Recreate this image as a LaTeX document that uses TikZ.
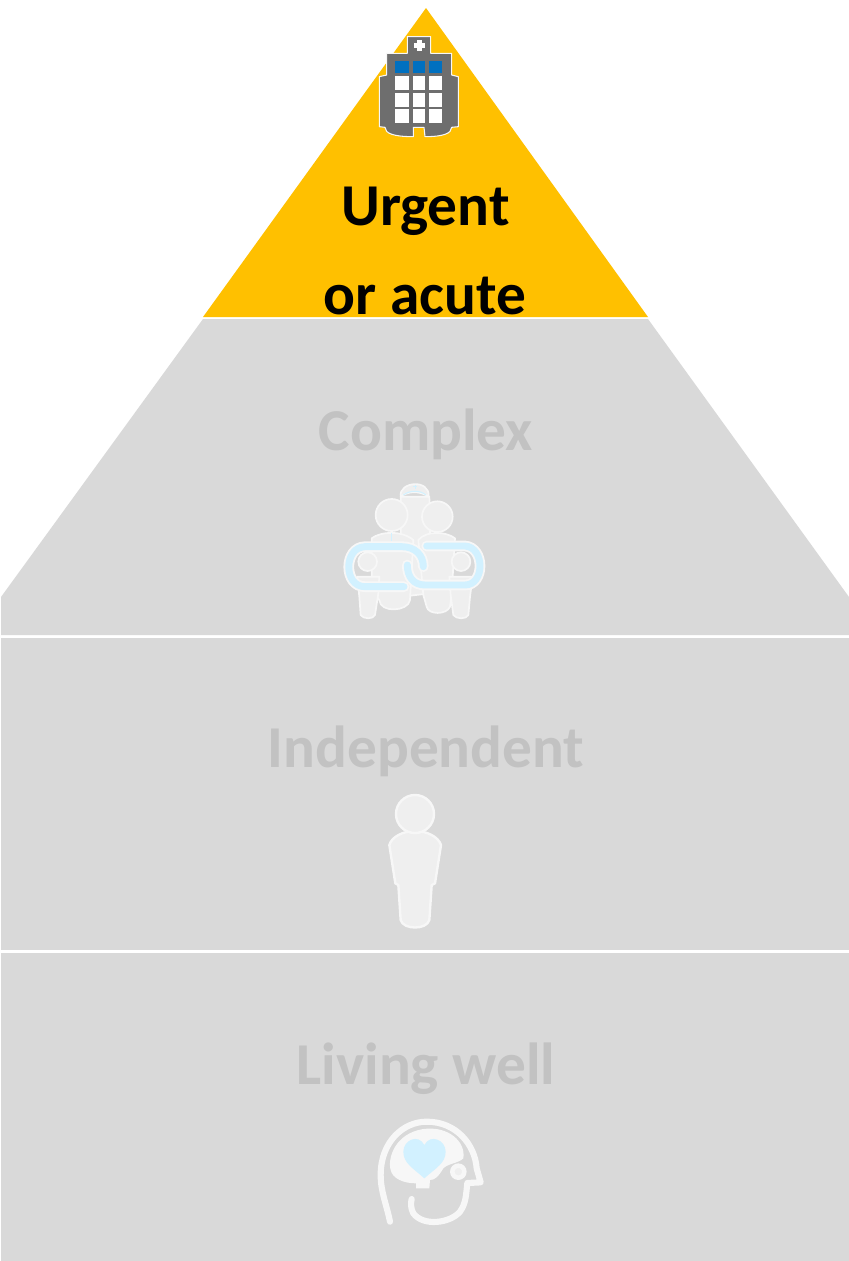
\documentclass[tikz,border=0pt]{standalone}
\usepackage{fontspec}
\setmainfont{Carlito}
\definecolor{amber}{HTML}{FFC000}
\definecolor{band}{HTML}{D9D9D9}
\definecolor{dimtext}{HTML}{C2C2C2}
\definecolor{iconfill}{HTML}{EFEFEF}
\definecolor{iconline}{HTML}{F7F7F7}
\definecolor{chain}{HTML}{D2F1FF}
\definecolor{bldg}{HTML}{6E6E6E}
\definecolor{winblue}{HTML}{0070C0}
\tikzset{
  label text/.style={font=\bfseries\fontsize{44.5pt}{50pt}\selectfont,inner sep=0pt,anchor=base},
  dim label/.style={label text,text=dimtext},
  person/.style={fill=iconfill,draw=iconline,line width=1.3pt,line join=round},
  window/.style={fill=white,draw=none},
  bluewindow/.style={fill=winblue,draw=none},
}
\begin{document}
\begin{tikzpicture}[x=0.75pt,y=-0.75pt]
\useasboundingbox (0,0) rectangle (849,1261);
\fill[white] (0,0) rectangle (849,1261);
% pyramid tiers
\fill[amber] (426,8) -- (648,317) -- (203,317) -- cycle;
\fill[band] (203,319) -- (648,319) -- (849,597) -- (849,635) -- (1,635) -- (1,597) -- cycle;
\fill[band] (1,638) rectangle (849,950);
\fill[band] (1,953) rectangle (849,1261);
% labels
\node[label text,text=black] (urgent) at (425.5,225.5) {Urgent};
\node[label text,text=black] (acute) at (425,314.5) {or acute};
\node[dim label] (complex) at (426,450.5) {Complex};
\node[dim label] (independent) at (426,767) {Independent};
\node[dim label] (living) at (426,1084) {Living well};
% hospital icon
\begin{scope}[shift={(350,20)},x=.25pt,y=-.25pt]
  \fill[bldg,draw=iconline,line width=.8pt,line join=round]
    (172,50) -- (242,50) -- (242,100) -- (305,100) -- (305,165) -- (325,170) -- (325,320)
    -- (305,322) .. controls (305,340) and (280,350) .. (225,350) -- (222,322) -- (190,322) -- (190,350)
    .. controls (130,350) and (105,340) .. (105,322) -- (88,320) -- (88,170) -- (110,165) -- (110,100) -- (172,100) -- cycle;
  \fill[white] (202,60) rectangle (216,92);
  \fill[white] (193,69) rectangle (225,83);
  \foreach \a/\b in {135/176,188/226,238/276}{
    \fill[bluewindow] (\a,122) rectangle (\b,158);
    \fill[window] (\a,168) rectangle (\b,210);
    \fill[window] (\a,218) rectangle (\b,260);
    \fill[window] (\a,266) rectangle (\b,310);
  }
\end{scope}
% care group icon
\begin{scope}[shift={(330,470)},x=.25pt,y=-.25pt]
  % nurse
  \path[person] (212,80) -- (298,80) -- (300,180) -- (300,370) -- (215,380) -- (212,180) -- cycle;
  \path[person,fill=iconfill] (212,80) .. controls (205,35) and (300,25) .. (296,80) .. controls (270,62) and (235,62) .. (212,80) -- cycle;
  \draw[chain,line width=.8pt] (220,75) .. controls (240,60) and (270,60) .. (288,75);
  \draw[chain,line width=.7pt] (248,50) -- (262,50) (255,44) -- (255,56);
  % adults
  \path[person] (125,205) .. controls (150,185) and (215,180) .. (250,210) -- (240,390)
     .. controls (235,425) and (150,430) .. (148,390) -- (125,360) -- cycle;
  \path[person] (265,210) .. controls (290,180) and (350,185) .. (375,205) -- (365,370) -- (360,410)
     .. controls (350,435) and (295,435) .. (290,410) -- (280,375) -- cycle;
  \path[person] (185,135) circle[radius=48];
  \path[person] (322,140) circle[radius=46];
  \draw[chain,line width=.8pt] (184,188) -- (184,212);
  % children
  \path[person] (82,320) -- (148,320) -- (145,370) -- (135,435) .. controls (130,448) and (100,448) .. (92,435) -- (88,380) -- cycle;
  \path[person] (358,320) -- (428,320) -- (420,380) -- (415,435) .. controls (410,448) and (378,448) .. (370,435) -- (362,375) -- cycle;
  \path[person] (113,275) circle[radius=28];
  \path[person] (393,275) circle[radius=28];
  % chain
  \foreach \c/\w in {iconline/8pt,chain/5.2pt}{
    \draw[\c,line width=\w,line cap=round]
      (222,350) -- (105,350) .. controls (40,350) and (40,232) .. (105,230) -- (215,230) .. controls (255,230) and (280,255) .. (280,290);
    \draw[\c,line width=\w,line cap=round]
      (290,228) -- (405,228) .. controls (465,232) and (465,345) .. (405,345) -- (285,345) .. controls (250,345) and (232,320) .. (232,285);
  }
\end{scope}
% independent person icon
\begin{scope}[shift={(370,785)},x=.25pt,y=-.25pt]
  \path[person,line width=1.8pt] (58,180) .. controls (65,155) and (100,138) .. (135,138)
    .. controls (170,138) and (205,155) .. (213,180) -- (195,295) -- (185,300) -- (178,405)
    .. controls (170,435) and (100,435) .. (92,405) -- (85,300) -- (76,295) -- cycle;
  \path[person,line width=1.8pt] (135,87) circle[radius=57];
\end{scope}
% living well icon
\begin{scope}[shift={(360,1105)},x=.25pt,y=-.25pt]
  % brain
  \fill[iconline] (92,195) .. controls (82,160) and (105,85) .. (190,72)
    .. controls (265,62) and (318,110) .. (310,160) .. controls (295,175) and (265,175) .. (250,190)
    .. controls (235,215) and (225,225) .. (210,225) -- (208,250) -- (168,250) -- (168,235)
    .. controls (130,235) and (97,220) .. (92,195) -- cycle;
  % heart
  \fill[chain] (193,220) .. controls (160,190) and (130,175) .. (130,140)
    .. controls (130,105) and (175,85) .. (193,120)
    .. controls (211,85) and (257,105) .. (257,140)
    .. controls (257,175) and (226,190) .. (193,220) -- cycle;
  % head outline
  \draw[iconline,line width=4.6pt,line cap=round,line join=round]
    (90,350) .. controls (80,300) and (62,260) .. (62,210)
    .. controls (62,110) and (130,50) .. (200,50)
    .. controls (290,50) and (345,120) .. (350,190) -- (362,232) -- (322,234)
    .. controls (318,270) and (318,295) .. (300,320)
    .. controls (270,355) and (190,365) .. (160,325) .. controls (152,310) and (152,295) .. (155,282);
  \path[fill=iconfill,draw=iconline,line width=3.4pt] (295,200) circle[radius=18];
\end{scope}
\end{tikzpicture}
\end{document}
